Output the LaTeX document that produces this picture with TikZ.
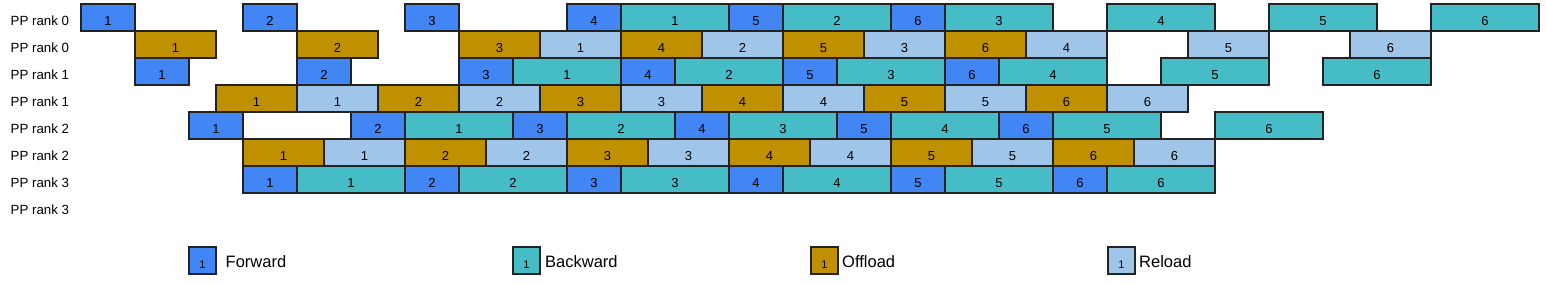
\documentclass[tikz,border=0pt]{standalone}
\usepackage{fontspec}
\setmainfont{Liberation Sans}
\definecolor{fwd}{HTML}{4285F4}
\definecolor{bwd}{HTML}{46BDC6}
\definecolor{off}{HTML}{BF9000}
\definecolor{rel}{HTML}{9FC5E8}
\definecolor{edge}{HTML}{222222}
\tikzset{
  cell/.style={draw=edge, line width=1.1pt, rectangle, inner sep=0pt, outer sep=0pt,
    anchor=north west, minimum height=27pt, text height=15pt, text depth=0pt,
    font=\fontsize{13}{13}\selectfont, text=black},
  F/.style={cell, fill=fwd},
  B/.style={cell, fill=bwd},
  O/.style={cell, fill=off},
  R/.style={cell, fill=rel},
  ranklabel/.style={anchor=base west, inner sep=0pt, font=\fontsize{13.3}{14}\selectfont},
  legtext/.style={anchor=base west, inner sep=0pt, font=\fontsize{16.5}{17}\selectfont},
  legbox/.style={minimum width=27pt, font=\fontsize{11}{11}\selectfont}
}
\newcommand\rowboxes[2]{%
  \foreach \a/\b/\k/\n [count=\i] in {#2} {
    \node[\k, minimum width={(\b-\a)*27pt}] (b#1-\i) at ({81+27*\a},{4+27*#1}) {\n};
  }}
\begin{document}
\begin{tikzpicture}[x=1pt,y=-1pt]
\useasboundingbox[fill=white] (0,0) rectangle (1546,284);
% row labels
\foreach \lab [count=\j from 0] in {PP rank 0,PP rank 0,PP rank 1,PP rank 1,PP rank 2,PP rank 2,PP rank 3,PP rank 3} {
  \node[ranklabel] (lab\j) at (10.5,{25+27*\j}) {\lab};
}
\rowboxes{0}{0/2/F/1,6/8/F/2,12/14/F/3,18/20/F/4,20/24/B/1,24/26/F/5,26/30/B/2,30/32/F/6,32/36/B/3,38/42/B/4,44/48/B/5,50/54/B/6}
\rowboxes{1}{2/5/O/1,8/11/O/2,14/17/O/3,17/20/R/1,20/23/O/4,23/26/R/2,26/29/O/5,29/32/R/3,32/35/O/6,35/38/R/4,41/44/R/5,47/50/R/6}
\rowboxes{2}{2/4/F/1,8/10/F/2,14/16/F/3,16/20/B/1,20/22/F/4,22/26/B/2,26/28/F/5,28/32/B/3,32/34/F/6,34/38/B/4,40/44/B/5,46/50/B/6}
\rowboxes{3}{5/8/O/1,8/11/R/1,11/14/O/2,14/17/R/2,17/20/O/3,20/23/R/3,23/26/O/4,26/29/R/4,29/32/O/5,32/35/R/5,35/38/O/6,38/41/R/6}
\rowboxes{4}{4/6/F/1,10/12/F/2,12/16/B/1,16/18/F/3,18/22/B/2,22/24/F/4,24/28/B/3,28/30/F/5,30/34/B/4,34/36/F/6,36/40/B/5,42/46/B/6}
\rowboxes{5}{6/9/O/1,9/12/R/1,12/15/O/2,15/18/R/2,18/21/O/3,21/24/R/3,24/27/O/4,27/30/R/4,30/33/O/5,33/36/R/5,36/39/O/6,39/42/R/6}
\rowboxes{6}{6/8/F/1,8/12/B/1,12/14/F/2,14/18/B/2,18/20/F/3,20/24/B/3,24/26/F/4,26/30/B/4,30/32/F/5,32/36/B/5,36/38/F/6,38/42/B/6}
% legend
\node[F, legbox] (lgF) at (189,247) {1};
\node[legtext] (lgFt) at (225.5,267) {Forward};
\node[B, legbox] (lgB) at (513,247) {1};
\node[legtext] (lgBt) at (545,267) {Backward};
\node[O, legbox] (lgO) at (811,247) {1};
\node[legtext] (lgOt) at (842,267) {Offload};
\node[R, legbox] (lgR) at (1108,247) {1};
\node[legtext] (lgRt) at (1139,267) {Reload};
\end{tikzpicture}
\end{document}
